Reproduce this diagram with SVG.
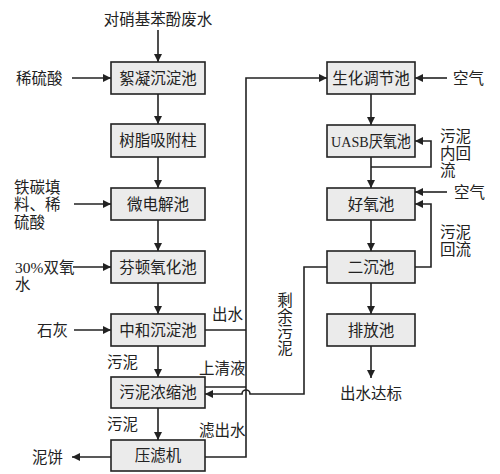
<svg xmlns="http://www.w3.org/2000/svg" width="500" height="474" viewBox="0 0 500 474">
<style>
.box{fill:#ebebeb;stroke:#222;stroke-width:1.6}
.t{font-family:"Liberation Serif","Noto Sans CJK SC",serif;font-size:15.5px;fill:#222;text-anchor:middle;dominant-baseline:central}
.l{font-family:"Liberation Serif","Noto Sans CJK SC",serif;font-size:15.5px;fill:#222;dominant-baseline:central}
.c{fill:none;stroke:#222;stroke-width:1.6}
</style>
<defs>
<marker id="a" viewBox="0 0 10 10" refX="10" refY="5" markerWidth="8" markerHeight="8" markerUnits="userSpaceOnUse" orient="auto"><path d="M0,0 L10,5 L0,10 z" fill="#222"/></marker>
</defs>
<rect width="500" height="474" fill="#fff"/>
<g id="connectors">
<path class="c" d="M158,30 V62" marker-end="url(#a)"/>
<path class="c" d="M158,94 V124" marker-end="url(#a)"/>
<path class="c" d="M158,157 V188" marker-end="url(#a)"/>
<path class="c" d="M158,220 V251" marker-end="url(#a)"/>
<path class="c" d="M158,283 V314" marker-end="url(#a)"/>
<path class="c" d="M158,346 V377" marker-end="url(#a)"/>
<path class="c" d="M158,408 V440" marker-end="url(#a)"/>
<path class="c" d="M72,78 H111" marker-end="url(#a)"/>
<path class="c" d="M74,204 H111" marker-end="url(#a)"/>
<path class="c" d="M73,267 H111" marker-end="url(#a)"/>
<path class="c" d="M74,330 H111" marker-end="url(#a)"/>
<path class="c" d="M111,457 H72" marker-end="url(#a)"/>
<path class="c" d="M205,457 H246 V78 H327" marker-end="url(#a)"/>
<path class="c" d="M205,330 H246"/>
<path class="c" d="M205,387 H246"/>
<path class="c" d="M327,267 H304 V394 H250 A4,4 0 0 0 242,394 H205" marker-end="url(#a)"/>
<path class="c" d="M371,94 V125" marker-end="url(#a)"/>
<path class="c" d="M371,157 V188" marker-end="url(#a)"/>
<path class="c" d="M371,220 V251" marker-end="url(#a)"/>
<path class="c" d="M371,283 V314" marker-end="url(#a)"/>
<path class="c" d="M371,346 V378" marker-end="url(#a)"/>
<path class="c" d="M447,78 H415" marker-end="url(#a)"/>
<path class="c" d="M371,167 H431 V141 H415" marker-end="url(#a)"/>
<path class="c" d="M447,192 H415" marker-end="url(#a)"/>
<path class="c" d="M415,267 H431 V204 H415" marker-end="url(#a)"/>
</g>
<g id="n1"><rect class="box" x="111" y="62" width="94" height="32"/><text class="t" x="158" y="78">絮凝沉淀池</text></g>
<g id="n2"><rect class="box" x="111" y="124" width="94" height="33"/><text class="t" x="158" y="140.5">树脂吸附柱</text></g>
<g id="n3"><rect class="box" x="111" y="188" width="94" height="32"/><text class="t" x="158" y="204">微电解池</text></g>
<g id="n4"><rect class="box" x="111" y="251" width="94" height="32"/><text class="t" x="158" y="267">芬顿氧化池</text></g>
<g id="n5"><rect class="box" x="111" y="314" width="94" height="32"/><text class="t" x="158" y="330">中和沉淀池</text></g>
<g id="n6"><rect class="box" x="111" y="377" width="94" height="31"/><text class="t" x="158" y="392.5">污泥浓缩池</text></g>
<g id="n7"><rect class="box" x="111" y="440" width="94" height="31"/><text class="t" x="158" y="455.5">压滤机</text></g>
<g id="n8"><rect class="box" x="327" y="62" width="88" height="32"/><text class="t" x="371" y="78">生化调节池</text></g>
<g id="n9"><rect class="box" x="327" y="125" width="88" height="32"/><text class="t" x="371" y="141" textLength="80" lengthAdjust="spacingAndGlyphs">UASB厌氧池</text></g>
<g id="n10"><rect class="box" x="327" y="188" width="88" height="32"/><text class="t" x="371" y="204">好氧池</text></g>
<g id="n11"><rect class="box" x="327" y="251" width="88" height="32"/><text class="t" x="371" y="267">二沉池</text></g>
<g id="n12"><rect class="box" x="327" y="314" width="88" height="32"/><text class="t" x="371" y="330">排放池</text></g>
<g id="labels">
<text class="t" x="158" y="19">对硝基苯酚废水</text>
<text class="l" x="16" y="78">稀硫酸</text>
<text class="l" x="14" y="187">铁碳填</text>
<text class="l" x="14" y="204">料、稀</text>
<text class="l" x="14" y="222">硫酸</text>
<text class="l" x="15" y="267">30%双氧</text>
<text class="l" x="15" y="284">水</text>
<text class="l" x="37" y="330">石灰</text>
<text class="l" x="32" y="457">泥饼</text>
<text class="l" x="212" y="314">出水</text>
<text class="l" x="107" y="362">污泥</text>
<text class="l" x="199" y="368">上清液</text>
<text class="l" x="107" y="424">污泥</text>
<text class="l" x="199" y="430">滤出水</text>
<text class="t" x="285" y="300">剩</text>
<text class="t" x="285" y="316">余</text>
<text class="t" x="285" y="332">污</text>
<text class="t" x="285" y="348">泥</text>
<text class="t" x="371" y="393">出水达标</text>
<text class="l" x="453" y="78">空气</text>
<text class="l" x="440" y="136">污泥</text>
<text class="l" x="440" y="153">内回</text>
<text class="l" x="440" y="170">流</text>
<text class="l" x="454" y="192">空气</text>
<text class="l" x="440" y="232">污泥</text>
<text class="l" x="440" y="249">回流</text>
</g>
</svg>
